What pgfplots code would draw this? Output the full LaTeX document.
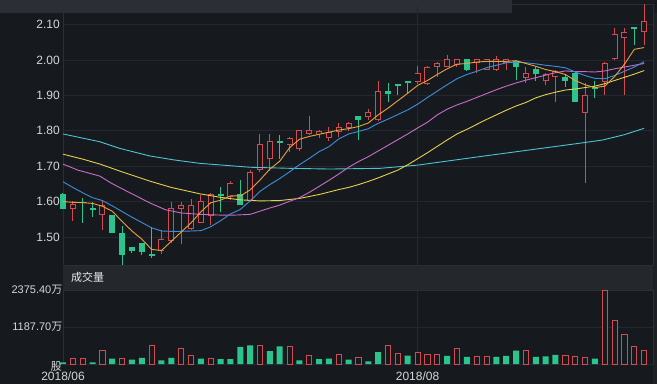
\documentclass[border=0pt]{standalone}
\usepackage{pgfplots}
\usepackage{pgfplotstable}
\pgfplotsset{compat=1.18}
\usepackage{fontspec}
\setmainfont{Liberation Sans}
\newfontfamily\cjk{Noto Sans CJK SC}
\definecolor{bg}{HTML}{161A1F}
\definecolor{topband}{HTML}{2B2E34}
\definecolor{hdr}{HTML}{24272C}
\definecolor{rstrip}{HTML}{1D2126}
\definecolor{gridc}{HTML}{232830}
\definecolor{axc}{HTML}{2A2F37}
\definecolor{labc}{HTML}{D6D6D6}
\definecolor{cred}{HTML}{D44B4F}
\definecolor{cgreen}{HTML}{2BC48D}
\definecolor{maA}{HTML}{EBA23E}
\definecolor{maB}{HTML}{3D8FDB}
\definecolor{maC}{HTML}{C96BC9}
\definecolor{maD}{HTML}{E5CF4E}
\definecolor{maE}{HTML}{4DC3CF}

\pgfplotstableread{
i O H L C
1 1.580 1.603 1.545 1.592
4 1.562 1.602 1.521 1.590
10 1.460 1.520 1.453 1.494
11 1.490 1.600 1.483 1.581
12 1.580 1.599 1.481 1.590
13 1.524 1.608 1.520 1.590
14 1.540 1.618 1.540 1.602
15 1.559 1.623 1.535 1.621
17 1.612 1.659 1.604 1.652
19 1.602 1.688 1.599 1.683
20 1.689 1.790 1.684 1.762
21 1.719 1.790 1.687 1.771
23 1.760 1.782 1.741 1.781
24 1.749 1.802 1.744 1.801
25 1.790 1.841 1.789 1.801
26 1.790 1.801 1.781 1.800
27 1.779 1.810 1.771 1.797
28 1.797 1.821 1.783 1.812
29 1.807 1.824 1.800 1.821
31 1.840 1.862 1.830 1.852
32 1.830 1.941 1.829 1.912
36 1.939 1.983 1.932 1.962
37 1.931 1.982 1.930 1.981
38 1.979 1.993 1.953 1.991
39 1.981 2.013 1.980 2.003
40 1.987 2.004 1.979 2.002
42 1.991 2.004 1.962 2.002
43 1.972 2.003 1.971 2.002
44 1.972 2.011 1.970 2.003
45 1.991 2.004 1.973 2.002
47 1.950 1.981 1.934 1.962
49 1.941 1.962 1.929 1.960
50 1.951 1.972 1.882 1.970
53 1.851 1.934 1.652 1.901
55 1.939 1.994 1.901 1.992
56 2.002 2.090 2.000 2.073
57 2.061 2.090 1.901 2.080
59 2.080 2.158 2.042 2.111
}\redtab

\pgfplotstableread{
i O H L C
0 1.622 1.623 1.578 1.579
2 1.600 1.609 1.540 1.597
3 1.582 1.600 1.557 1.577
5 1.562 1.562 1.510 1.510
6 1.512 1.530 1.421 1.448
7 1.473 1.473 1.454 1.461
8 1.482 1.482 1.450 1.459
9 1.452 1.529 1.440 1.446
16 1.622 1.640 1.571 1.617
18 1.621 1.660 1.590 1.590
22 1.770 1.788 1.720 1.765
30 1.842 1.842 1.774 1.830
33 1.912 1.936 1.882 1.905
34 1.932 1.932 1.900 1.927
35 1.941 1.941 1.905 1.936
41 2.002 2.003 1.970 1.972
46 1.996 1.998 1.942 1.981
48 1.974 1.981 1.941 1.961
51 1.953 1.960 1.923 1.941
52 1.962 1.967 1.880 1.880
54 1.925 1.941 1.892 1.917
58 2.092 2.093 2.042 2.088
}\greentab

\pgfplotstableread{
x y
0 1.600
1 1.598
2 1.597
3 1.595
4 1.587
5 1.573
6 1.544
7 1.517
8 1.494
9 1.465
10 1.462
11 1.488
12 1.514
13 1.540
14 1.571
15 1.597
16 1.604
17 1.616
18 1.616
19 1.633
20 1.661
21 1.692
22 1.714
23 1.752
24 1.776
25 1.784
26 1.790
27 1.796
28 1.802
29 1.806
30 1.812
31 1.822
32 1.845
33 1.864
34 1.885
35 1.906
36 1.928
37 1.942
38 1.959
39 1.975
40 1.988
41 1.990
42 1.994
43 1.996
44 1.996
45 1.996
46 1.998
47 1.990
48 1.982
49 1.973
50 1.967
51 1.959
52 1.942
53 1.930
54 1.922
55 1.926
56 1.953
57 1.988
58 2.030
59 2.035
}\maAtab

\pgfplotstableread{
x y
0 1.656
1 1.640
2 1.625
3 1.611
4 1.603
5 1.588
6 1.572
7 1.556
8 1.541
9 1.526
10 1.517
11 1.516
12 1.516
13 1.517
14 1.518
15 1.529
16 1.546
17 1.565
18 1.578
19 1.602
20 1.629
21 1.648
22 1.665
23 1.684
24 1.704
25 1.722
26 1.741
27 1.755
28 1.777
29 1.791
30 1.798
31 1.806
32 1.821
33 1.833
34 1.846
35 1.859
36 1.875
37 1.894
38 1.912
39 1.930
40 1.947
41 1.959
42 1.968
43 1.978
44 1.985
45 1.992
46 1.994
47 1.992
48 1.989
49 1.985
50 1.982
51 1.978
52 1.966
53 1.956
54 1.948
55 1.947
56 1.956
57 1.968
58 1.980
59 1.995
}\maBtab

\pgfplotstableread{
x y
0 1.706
1.5 1.689
3.75 1.672
4.9 1.652
7 1.622
9 1.594
10.4 1.577
12 1.568
13.9 1.564
15.9 1.562
17.5 1.562
19 1.564
20 1.573
21 1.582
22 1.590
23 1.601
24 1.611
25 1.626
26 1.643
27 1.660
28 1.678
29 1.697
30 1.713
31 1.727
32 1.743
33 1.759
34 1.775
35 1.791
36 1.808
37 1.824
38 1.845
39 1.861
40 1.873
41 1.883
42 1.894
43 1.905
44 1.916
45 1.926
46 1.935
47 1.943
48 1.950
49 1.957
50 1.964
51 1.969
52 1.967
53 1.967
54 1.966
55 1.969
56 1.975
57 1.980
58 1.985
59 1.990
}\maCtab

\pgfplotstableread{
x y
0 1.734
2 1.720
3.75 1.706
6 1.684
8.8 1.658
11 1.640
13.9 1.622
16 1.612
18 1.605
20 1.602
22 1.603
24 1.609
26 1.620
27 1.627
28 1.634
29 1.640
30 1.648
31 1.657
32 1.667
33 1.678
34 1.689
35 1.704
36 1.721
37 1.738
38 1.756
39 1.774
40 1.791
41 1.804
42 1.818
43 1.832
44 1.845
45 1.858
46 1.870
47 1.880
48 1.893
49 1.902
50 1.909
51 1.915
52 1.918
53 1.922
54 1.926
55 1.933
56 1.942
57 1.951
58 1.960
59 1.970
}\maDtab

\pgfplotstableread{
x y
0 1.791
3.75 1.769
5.8 1.750
8.8 1.729
11.2 1.718
13.9 1.708
19 1.697
23 1.694
27.1 1.692
32.2 1.694
36 1.703
42.3 1.727
47.4 1.746
52.5 1.765
54.8 1.774
57 1.789
59 1.807
}\maEtab

\pgfplotstableread{
i V
1 193
2 193
4 449
6 193
9 610
12 514
13 267
15 193
20 610
23 567
25 289
28 321
30 214
33 600
34 342
36 385
37 300
38 300
40 492
42 246
43 246
47 428
51 289
52 246
53 203
55 2375.4
56 1403
57 941
58 578
59 440
}\volred

\pgfplotstableread{
i V
0 55
3 55
5 171
7 139
8 193
10 118
11 193
14 171
16 160
17 160
18 546
19 600
21 417
22 567
24 118
26 160
27 171
29 139
31 86
32 385
35 267
39 257
41 225
44 225
45 257
46 428
48 225
49 246
50 289
54 171
}\volgreen

\begin{document}
\begin{tikzpicture}[x=1pt,y=1pt]
\fill[bg] (0,0) rectangle (657,384);
\fill[topband] (0,371) rectangle (512,384);
\fill[rstrip] (653,0) rectangle (657,371);
\fill[hdr] (63,94) rectangle (653,119);
\node[anchor=west, text=white!92!black, font=\cjk\fontsize{11}{11}\selectfont, inner sep=0pt] at (71,107) {成交量};

\begin{axis}[
  at={(63pt,119pt)}, anchor=south west, scale only axis,
  width=590pt, height=261pt,
  xmin=0, xmax=59.9, ymin=1.421, ymax=2.158,
  clip=false,
  axis line style={draw=axc, line width=0.8pt},
  major tick length=0pt,
  xtick={0,36}, xticklabels={,},
  ytick={1.5,1.6,1.7,1.8,1.9,2.0,2.1},
  yticklabels={1.50,1.60,1.70,1.80,1.90,2.00,2.10},
  yticklabel style={text=labc, font=\fontsize{12}{12}\selectfont, inner sep=0pt, xshift=-3pt},
  xmajorgrids, ymajorgrids,
  grid style={draw=gridc, line width=0.8pt},
]
% red wicks
\addplot[draw=none, forget plot, error bars/.cd, y dir=both, y explicit, error mark=none,
  error bar style={draw=cred, line width=1pt}]
  table[x=i, y expr={(\thisrow{H}+\thisrow{L})/2}, y error expr={(\thisrow{H}-\thisrow{L})/2}] {\redtab};
% red bodies outer
\addplot[draw=none, forget plot, error bars/.cd, y dir=both, y explicit, error mark=none,
  error bar style={draw=cred, line width=6pt}]
  table[x=i, y expr={(\thisrow{O}+\thisrow{C})/2}, y error expr={max(abs(\thisrow{C}-\thisrow{O})/2,0.0014)}] {\redtab};
% red bodies inner (hollow)
\addplot[draw=none, forget plot, error bars/.cd, y dir=both, y explicit, error mark=none,
  error bar style={draw=bg, line width=4.2pt}]
  table[x=i, y expr={(\thisrow{O}+\thisrow{C})/2}, y error expr={max(abs(\thisrow{C}-\thisrow{O})/2-0.0028,0)}] {\redtab};
% green wicks
\addplot[draw=none, forget plot, error bars/.cd, y dir=both, y explicit, error mark=none,
  error bar style={draw=cgreen, line width=1pt}]
  table[x=i, y expr={(\thisrow{H}+\thisrow{L})/2}, y error expr={(\thisrow{H}-\thisrow{L})/2}] {\greentab};
% green bodies
\addplot[draw=none, forget plot, error bars/.cd, y dir=both, y explicit, error mark=none,
  error bar style={draw=cgreen, line width=6pt}]
  table[x=i, y expr={(\thisrow{O}+\thisrow{C})/2}, y error expr={max(abs(\thisrow{C}-\thisrow{O})/2,0.0014)}] {\greentab};
% moving averages
\addplot[draw=maE, line width=0.9pt] table[x=x,y=y] {\maEtab};
\addplot[draw=maD, line width=0.9pt] table[x=x,y=y] {\maDtab};
\addplot[draw=maC, line width=0.9pt] table[x=x,y=y] {\maCtab};
\addplot[draw=maB, line width=0.9pt] table[x=x,y=y] {\maBtab};
\addplot[draw=maA, line width=0.9pt] table[x=x,y=y] {\maAtab};
\end{axis}

\begin{axis}[
  at={(63pt,20pt)}, anchor=south west, scale only axis,
  width=590pt, height=74pt,
  xmin=0, xmax=59.9, ymin=0, ymax=2375.4,
  clip=false,
  axis line style={draw=axc, line width=0.8pt},
  major tick length=0pt,
  scaled y ticks=false,
  xtick={0,36}, xticklabels={2018/06,2018/08},
  xticklabel style={text=labc, font=\fontsize{12}{12}\selectfont, inner sep=0pt, yshift=-8pt},
  ytick={1187.7,2375.4},
  yticklabels={{1187.70{\cjk 万}},{2375.40{\cjk 万}}},
  yticklabel style={text=labc, font=\fontsize{11}{11}\selectfont, inner sep=0pt, xshift=-0.5pt},
  extra y ticks={0},
  extra y tick labels={{\cjk 股}},
  extra y tick style={yticklabel style={yshift=-3pt, xshift=-0.5pt}},
  xmajorgrids, ymajorgrids,
  grid style={draw=gridc, line width=0.8pt},
]
\addplot[ybar, bar width=5.2pt, bar shift=0pt, draw=cred, fill=bg, line width=0.8pt] table[x=i,y=V] {\volred};
\addplot[ybar, bar width=6pt, bar shift=0pt, draw=none, fill=cgreen] table[x=i,y=V] {\volgreen};
\end{axis}
\end{tikzpicture}
\end{document}
